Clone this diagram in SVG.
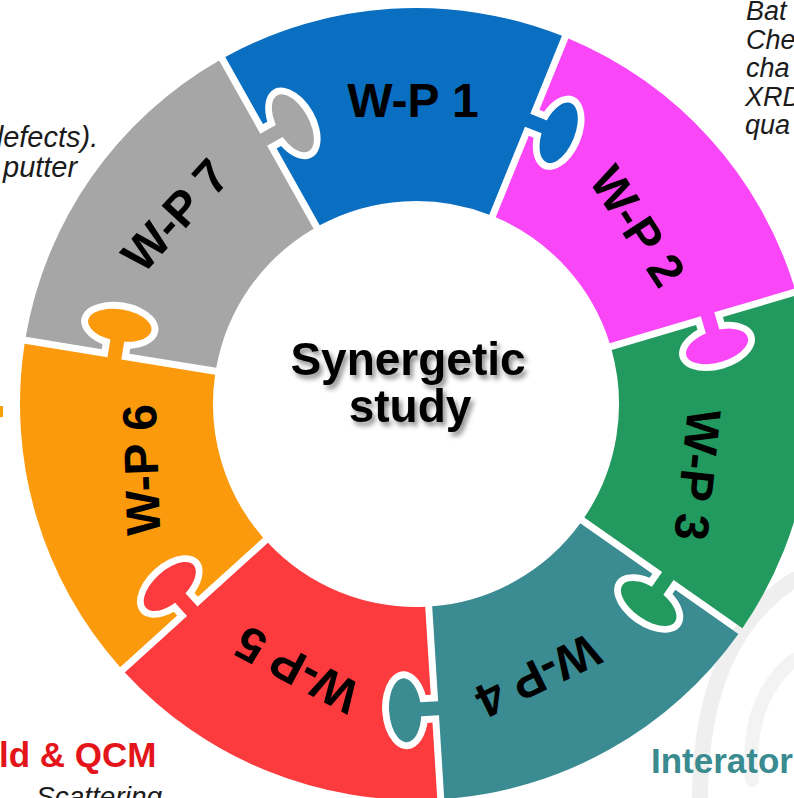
<svg xmlns="http://www.w3.org/2000/svg" width="794" height="798" viewBox="0 0 794 798">
  <style>
    .lbl{font-family:"Liberation Sans",Arial,sans-serif;font-weight:bold;font-size:48px;fill:#000;text-anchor:middle}
    .core{font-family:"Liberation Sans",Arial,sans-serif;font-weight:bold;font-size:46px;fill:#000;text-anchor:middle}
    .note{font-family:"Liberation Sans",Arial,sans-serif;font-style:italic;fill:#1b1b1b}
    .head{font-family:"Liberation Sans",Arial,sans-serif;font-weight:bold;font-size:35px}
  </style>
  <defs>
    <!-- One ring segment (1/7 of the ring), drawn about the ring centre.
         Notch for the incoming tab at the leading edge, tab at the trailing edge. -->
    <path id="piece" d="M 3.5 -202.97 L 3.5 -291 L 8.53 -291 A 23 39 0 1 0 8.53 -319 L 3.5 -319 L 3.5 -395.98
      A 396 396 0 0 1 307.41 -249.63 L 241.75 -197.27 L 252.90 -183.28 A 16 32 51.43 1 1 241.96 -174.55
      L 230.80 -188.54 L 156.51 -129.29 A 203 203 0 0 0 3.5 -202.97 Z"/>
    <filter id="shadow" x="-20%" y="-30%" width="140%" height="170%">
      <feDropShadow dx="3" dy="4" stdDeviation="2.5" flood-color="#000" flood-opacity="0.45"/>
    </filter>
  </defs>

  <rect width="794" height="798" fill="#fff"/>

  <!-- faint logo in the background -->
  <g fill="none" stroke="#efefef" stroke-linecap="round">
    <path d="M 794 580 Q 700 640 700 800" stroke-width="16"/>
    <path d="M 794 660 Q 745 700 752 780" stroke-width="14" stroke="#f3f3f3"/>
  </g>

  <!-- surrounding text, cut by the page edge -->
  <g class="note" font-size="27">
    <text x="746" y="20">Bat</text>
    <text x="746" y="48.5">Che</text>
    <text x="746" y="77">cha</text>
    <text x="745" y="105.5">XRD</text>
    <text x="745" y="134">qua</text>
  </g>
  <g class="note" font-size="29">
    <text x="-13" y="147">defects).</text>
    <text x="3" y="177">putter</text>
  </g>
  <text class="note" font-size="28" x="36" y="806">Scattering</text>
  <text class="head" x="-1" y="767" fill="#e3151b">ld &amp; QCM</text>
  <text class="head" x="651" y="773" fill="#3a8b8f">Interator</text>
  <rect x="0" y="406" width="3" height="11" fill="#f5a000"/>

  <!-- work packages -->
  <g id="wp1">
    <use href="#piece" transform="translate(416 404) rotate(-29.3)" fill="#0a6ec1"/>
    <text class="lbl" transform="translate(413 100)" y="17">W-P 1</text>
  </g>
  <g id="wp2">
    <use href="#piece" transform="translate(416 404) rotate(22.13)" fill="#f946f6"/>
    <text class="lbl" transform="translate(638 226) rotate(57)" y="17">W-P 2</text>
  </g>
  <g id="wp3">
    <use href="#piece" transform="translate(416 404) rotate(73.56)" fill="#22995e"/>
    <text class="lbl" transform="translate(698 475) rotate(96)" y="17">W-P 3</text>
  </g>
  <g id="wp4">
    <use href="#piece" transform="translate(416 404) rotate(124.99)" fill="#3b8b93"/>
    <text class="lbl" transform="translate(538 676) rotate(154)" y="17">W-P 4</text>
  </g>
  <g id="wp5">
    <use href="#piece" transform="translate(416 404) rotate(176.41)" fill="#fc3b3f"/>
    <text class="lbl" transform="translate(297 670) rotate(208)" y="17">W-P 5</text>
  </g>
  <g id="wp6">
    <use href="#piece" transform="translate(416 404) rotate(227.84)" fill="#fb9a0c"/>
    <text class="lbl" transform="translate(141 470) rotate(268)" y="17">W-P 6</text>
  </g>
  <g id="wp7">
    <use href="#piece" transform="translate(416 404) rotate(279.27)" fill="#a6a6a6"/>
    <text class="lbl" transform="translate(175 215) rotate(-47.5)" y="17">W-P 7</text>
  </g>

  <!-- hub -->
  <g id="hub">
    <text class="core" filter="url(#shadow)"><tspan x="408" y="375">Synergetic</tspan><tspan x="410" y="422">study</tspan></text>
  </g>
</svg>
